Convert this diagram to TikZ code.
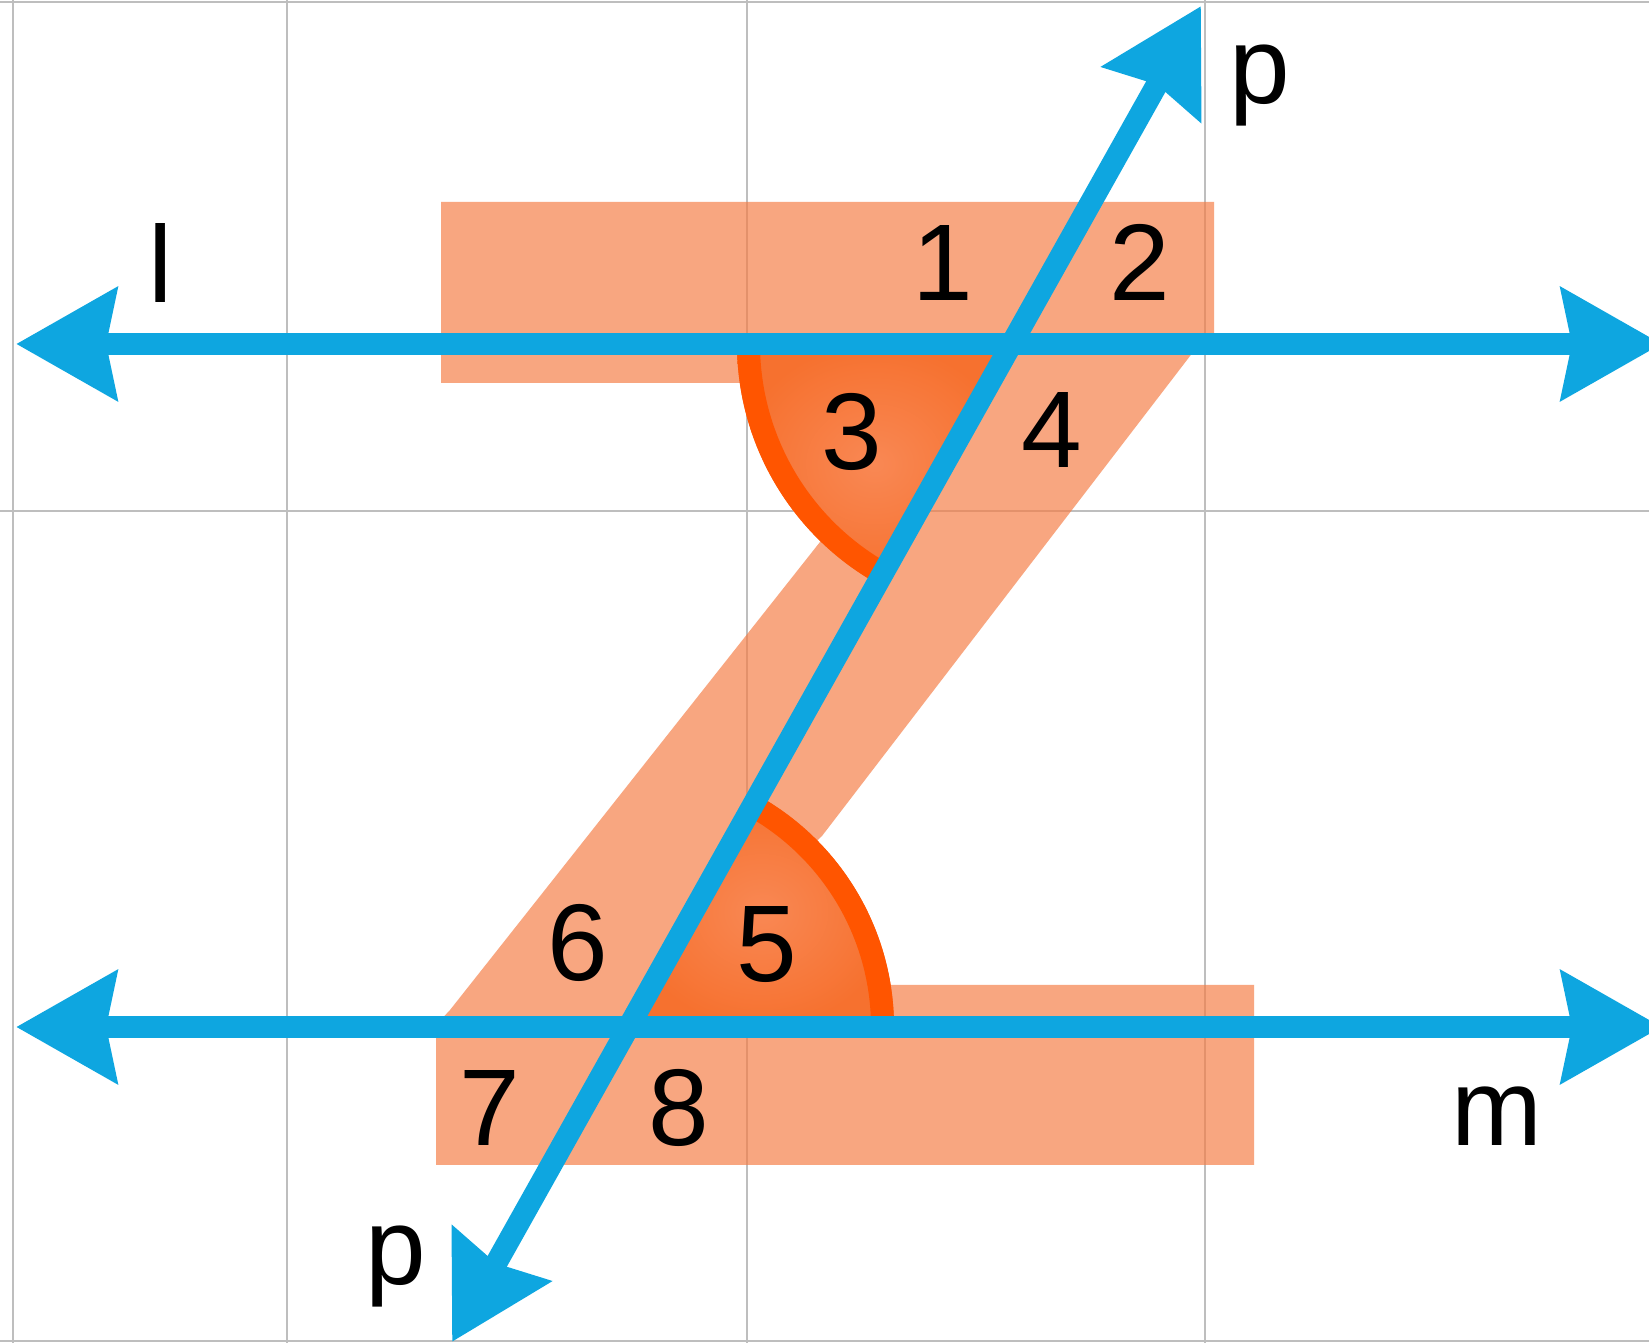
\documentclass[tikz,border=0pt]{standalone}
\usepackage{fontspec}
\setmainfont{Liberation Sans}
\usetikzlibrary{arrows.meta}
\definecolor{rayblue}{HTML}{0EA6E0}
\definecolor{zorange}{HTML}{F57D45}
\definecolor{angin}{HTML}{F98854}
\definecolor{angout}{HTML}{F6712F}
\definecolor{angring}{HTML}{FF5500}
\definecolor{gridgray}{HTML}{BEBEBE}
\begin{document}
\begin{tikzpicture}[x=0.01cm,y=0.01cm,
			gridline/.style={draw=gridgray,line width=0.6pt},
			zshape/.style={fill=zorange,fill opacity=0.68},
			angsec/.style={inner color=angin,outer color=angout},
			angarc/.style={draw=angring,line width=0.23cm},
			ray/.style={draw=rayblue,line width=0.22cm,{Stealth[length=1cm,width=1.1cm,inset=0.1cm]}-{Stealth[length=1cm,width=1.1cm,inset=0.1cm]}},
			lbl/.style={anchor=base,inner sep=0pt,text=black,font=\fontsize{31}{31}\selectfont}
			]
			\useasboundingbox (0,0) rectangle (1649,1343);
			\clip (0,0) rectangle (1649,1343);
			\fill[white] (0,0) rectangle (1649,1343);
			\foreach \gx in {13,287,747,1205} \draw[gridline] (\gx,0) -- (\gx,1343);
			\foreach \gy in {2,832,1341} \draw[gridline] (0,\gy) -- (1649,\gy);
			\coordinate (A) at (1012,999);
			\coordinate (B) at (629,316);
			\fill[zshape] (441,1141) -- (1214,1141) -- (1214,1000) -- (1200,1000) -- (822,507) -- (B) -- (880,358) -- (1254,358) -- (1254,178) -- (436,178) -- (436,318) -- (450,333) -- (820,801) -- (A) -- (745,960) -- (441,960) -- cycle;
			\shade[angsec] (A) -- ++(180:275) arc[start angle=180,end angle=240.7,radius=275] -- cycle;
			\draw[angarc] (A) ++(180:263.5) arc[start angle=180,end angle=240.7,radius=263.5];
			\shade[angsec] (B) -- ++(0:265) arc[start angle=0,end angle=60.7,radius=265] -- cycle;
			\draw[angarc] (B) ++(0:253.5) arc[start angle=0,end angle=60.7,radius=253.5];
			\coordinate (lW) at (16,999); \coordinate (lE) at (1662,999);
			\coordinate (mW) at (16,316); \coordinate (mE) at (1662,316);
			\coordinate (pS) at (452,1); \coordinate (pN) at (1201,1337);
			\draw[ray] (lW) -- (lE);
			\draw[ray] (mW) -- (mE);
			\draw[ray] (pS) -- (pN);
			\node[lbl] (ll) at (161,1040) {l};
			\node[lbl] (n1) at (943,1042) {1};
			\node[lbl] (n2) at (1140,1042) {2};
			\node[lbl] (n3) at (852,873) {3};
			\node[lbl] (n4) at (1052,875) {4};
			\node[lbl] (n5) at (767,361) {5};
			\node[lbl] (n6) at (578,362) {6};
			\node[lbl] (n7) at (490,197) {7};
			\node[lbl] (n8) at (679,197) {8};
			\node[lbl] (pt) at (1260,1239) {p};
			\node[lbl] (pb) at (396,58) {p};
			\node[lbl] (mm) at (1497,197) {m};
		\end{tikzpicture}
\end{document}
